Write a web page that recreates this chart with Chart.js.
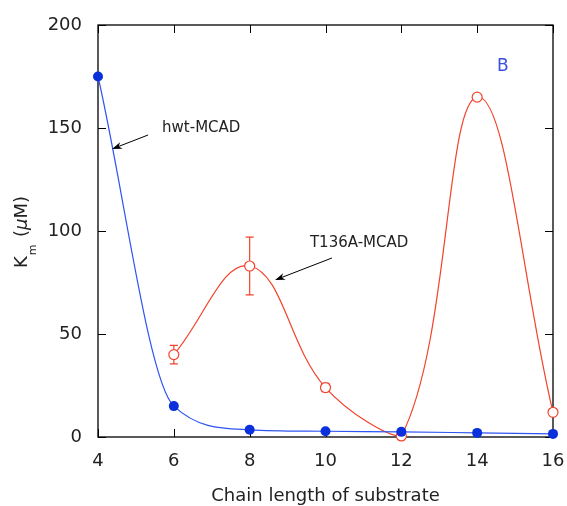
<!DOCTYPE html>
<html>
<head>
<meta charset="utf-8">
<script src="https://cdn.jsdelivr.net/npm/chart.js@4"></script>
<style>
  html, body { margin: 0; padding: 0; background: #fff; }
  #wrap { width: 567px; height: 506px; }
</style>
</head>
<body>
<div id="wrap"><canvas id="km"></canvas></div>
<script>
// Données
const chainLength = [4, 6, 8, 10, 12, 14, 16];
const kmWild = [175, 15, 3.5, 2.8, 2.5, 2, 1.5];
const kmMutantX = [6, 8, 10, 12, 14, 16];
const kmMutant = [40, 83, 24, 0.5, 165, 12];
const kmMutantErr = [4.5, 14, 2, 0, 0, 0];
const xTickValues = [4, 6, 8, 10, 12, 14, 16];
const yTickValues = [0, 50, 100, 150, 200];

// Étiquettes et flèches (coordonnées en unités des axes)
const labels = [
    { text: 'hwt-MCAD', x: 5.69, y: 150, arrowFrom: [5.32, 146.6], arrowTo: [4.37, 139.8] },
    { text: 'T136A-MCAD', x: 9.59, y: 94.2, arrowFrom: [10.17, 86.9], arrowTo: [8.67, 76.2] }
];
const panelLetter = { text: 'B', x: 14.68, y: 179.6 };

const FONT = "'DejaVu Sans', sans-serif";
const BLUE_LINE = '#2f55f2';
const BLUE_DOT = '#0a30dc';
const RED = '#f2432b';

const framePlugin = {
    id: 'frame',
    beforeDatasetsDraw(chart) {
        const { ctx, chartArea: a, scales: { x, y } } = chart;
        ctx.save();
        ctx.strokeStyle = '#000';
        ctx.lineWidth = 1.3;
        ctx.strokeRect(a.left, a.top, a.right - a.left, a.bottom - a.top);

        // graduations tournées vers l'intérieur
        ctx.lineWidth = 1;
        ctx.beginPath();
        xTickValues.forEach(v => {
            const px = Math.round(x.getPixelForValue(v)) + 0.5;
            ctx.moveTo(px, a.bottom); ctx.lineTo(px, a.bottom - 8);
            ctx.moveTo(px, a.top); ctx.lineTo(px, a.top + 8);
        });
        yTickValues.forEach(v => {
            const py = Math.round(y.getPixelForValue(v)) + 0.5;
            ctx.moveTo(a.left, py); ctx.lineTo(a.left + 8, py);
            ctx.moveTo(a.right, py); ctx.lineTo(a.right - 8, py);
        });
        ctx.stroke();

        // barres d'erreur
        ctx.strokeStyle = RED;
        ctx.lineWidth = 1.2;
        ctx.beginPath();
        kmMutantX.forEach((xv, i) => {
            const e = kmMutantErr[i];
            if (!e) return;
            const px = x.getPixelForValue(xv);
            const top = y.getPixelForValue(kmMutant[i] + e);
            const bot = y.getPixelForValue(kmMutant[i] - e);
            ctx.moveTo(px, top); ctx.lineTo(px, bot);
            ctx.moveTo(px - 4, top); ctx.lineTo(px + 4, top);
            ctx.moveTo(px - 4, bot); ctx.lineTo(px + 4, bot);
        });
        ctx.stroke();
        ctx.restore();
    },
    afterDraw(chart) {
        const { ctx, chartArea: a, scales: { x, y } } = chart;
        ctx.save();

        // étiquettes + flèches
        ctx.fillStyle = '#222';
        ctx.font = '15px ' + FONT;
        ctx.textBaseline = 'middle';
        ctx.textAlign = 'left';
        labels.forEach(l => {
            ctx.fillText(l.text, x.getPixelForValue(l.x), y.getPixelForValue(l.y));
            const x1 = x.getPixelForValue(l.arrowFrom[0]), y1 = y.getPixelForValue(l.arrowFrom[1]);
            const x2 = x.getPixelForValue(l.arrowTo[0]), y2 = y.getPixelForValue(l.arrowTo[1]);
            const ang = Math.atan2(y2 - y1, x2 - x1);
            ctx.strokeStyle = '#000';
            ctx.lineWidth = 1;
            ctx.beginPath();
            ctx.moveTo(x1, y1);
            ctx.lineTo(x2 - 6 * Math.cos(ang), y2 - 6 * Math.sin(ang));
            ctx.stroke();
            ctx.fillStyle = '#000';
            ctx.beginPath();
            ctx.moveTo(x2, y2);
            ctx.lineTo(x2 - 10 * Math.cos(ang) + 3.5 * Math.sin(ang), y2 - 10 * Math.sin(ang) - 3.5 * Math.cos(ang));
            ctx.lineTo(x2 - 7 * Math.cos(ang), y2 - 7 * Math.sin(ang));
            ctx.lineTo(x2 - 10 * Math.cos(ang) - 3.5 * Math.sin(ang), y2 - 10 * Math.sin(ang) + 3.5 * Math.cos(ang));
            ctx.closePath();
            ctx.fill();
            ctx.fillStyle = '#222';
        });

        // lettre du panneau
        ctx.fillStyle = '#3b4fe6';
        ctx.font = '17px ' + FONT;
        ctx.textAlign = 'center';
        ctx.fillText(panelLetter.text, x.getPixelForValue(panelLetter.x), y.getPixelForValue(panelLetter.y));

        // titre axe X
        ctx.fillStyle = '#222';
        ctx.font = '18px ' + FONT;
        ctx.fillText('Chain length of substrate', (a.left + a.right) / 2, 496);

        // titre axe Y : K_m (μM)
        ctx.translate(27, 268);
        ctx.rotate(-Math.PI / 2);
        ctx.textAlign = 'left';
        ctx.textBaseline = 'alphabetic';
        let cx = 0;
        ctx.font = '18px ' + FONT;
        ctx.fillText('K', cx, 0);
        cx += ctx.measureText('K').width + 1;
        ctx.font = '11px ' + FONT;
        ctx.fillText('m', cx, 9);
        cx = 31;
        ctx.font = '18px ' + FONT;
        ctx.fillText('(', cx, 0);
        cx += ctx.measureText('(').width;
        ctx.font = 'italic 18px ' + FONT;
        ctx.fillText('\u03bc', cx, 0);
        cx += ctx.measureText('\u03bc').width;
        ctx.font = '18px ' + FONT;
        ctx.fillText('M)', cx, 0);
        ctx.restore();
    }
};

new Chart(document.getElementById('km'), {
    type: 'line',
    data: {
        datasets: [
            {
                label: 'hwt-MCAD',
                data: chainLength.map((c, i) => ({ x: c, y: kmWild[i] })),
                borderColor: BLUE_LINE,
                borderWidth: 1.2,
                backgroundColor: BLUE_DOT,
                pointBackgroundColor: BLUE_DOT,
                pointBorderColor: BLUE_DOT,
                pointRadius: 5,
                pointBorderWidth: 0,
                cubicInterpolationMode: 'monotone',
                clip: false
            },
            {
                label: 'T136A-MCAD',
                data: kmMutantX.map((c, i) => ({ x: c, y: kmMutant[i] })),
                borderColor: RED,
                borderWidth: 1.2,
                pointBackgroundColor: '#fff',
                pointBorderColor: RED,
                pointRadius: 5,
                pointBorderWidth: 1.2,
                tension: 0.4,
                clip: false
            }
        ]
    },
    options: {
        responsive: true,
        maintainAspectRatio: false,
        animation: false,
        layout: { padding: { top: 25, right: 14, left: 0, bottom: 0 } },
        scales: {
            x: {
                type: 'linear',
                min: 4,
                max: 16,
                afterFit: s => { s.height = 69; s.paddingLeft = 0; s.paddingRight = 0; },
                afterBuildTicks: s => { s.ticks = xTickValues.map(v => ({ value: v })); },
                grid: { display: false, drawTicks: false },
                border: { display: false },
                ticks: { padding: 14, color: '#222', font: { size: 18, family: FONT } }
            },
            y: {
                type: 'linear',
                min: 0,
                max: 200,
                afterFit: s => { s.width = 98; s.paddingTop = 0; s.paddingBottom = 0; },
                afterBuildTicks: s => { s.ticks = yTickValues.map(v => ({ value: v })); },
                grid: { display: false, drawTicks: false },
                border: { display: false },
                ticks: { padding: 16, color: '#222', font: { size: 18, family: FONT } }
            }
        },
        plugins: {
            legend: { display: false },
            tooltip: { enabled: false }
        }
    },
    plugins: [framePlugin]
});
</script>
</body>
</html>
